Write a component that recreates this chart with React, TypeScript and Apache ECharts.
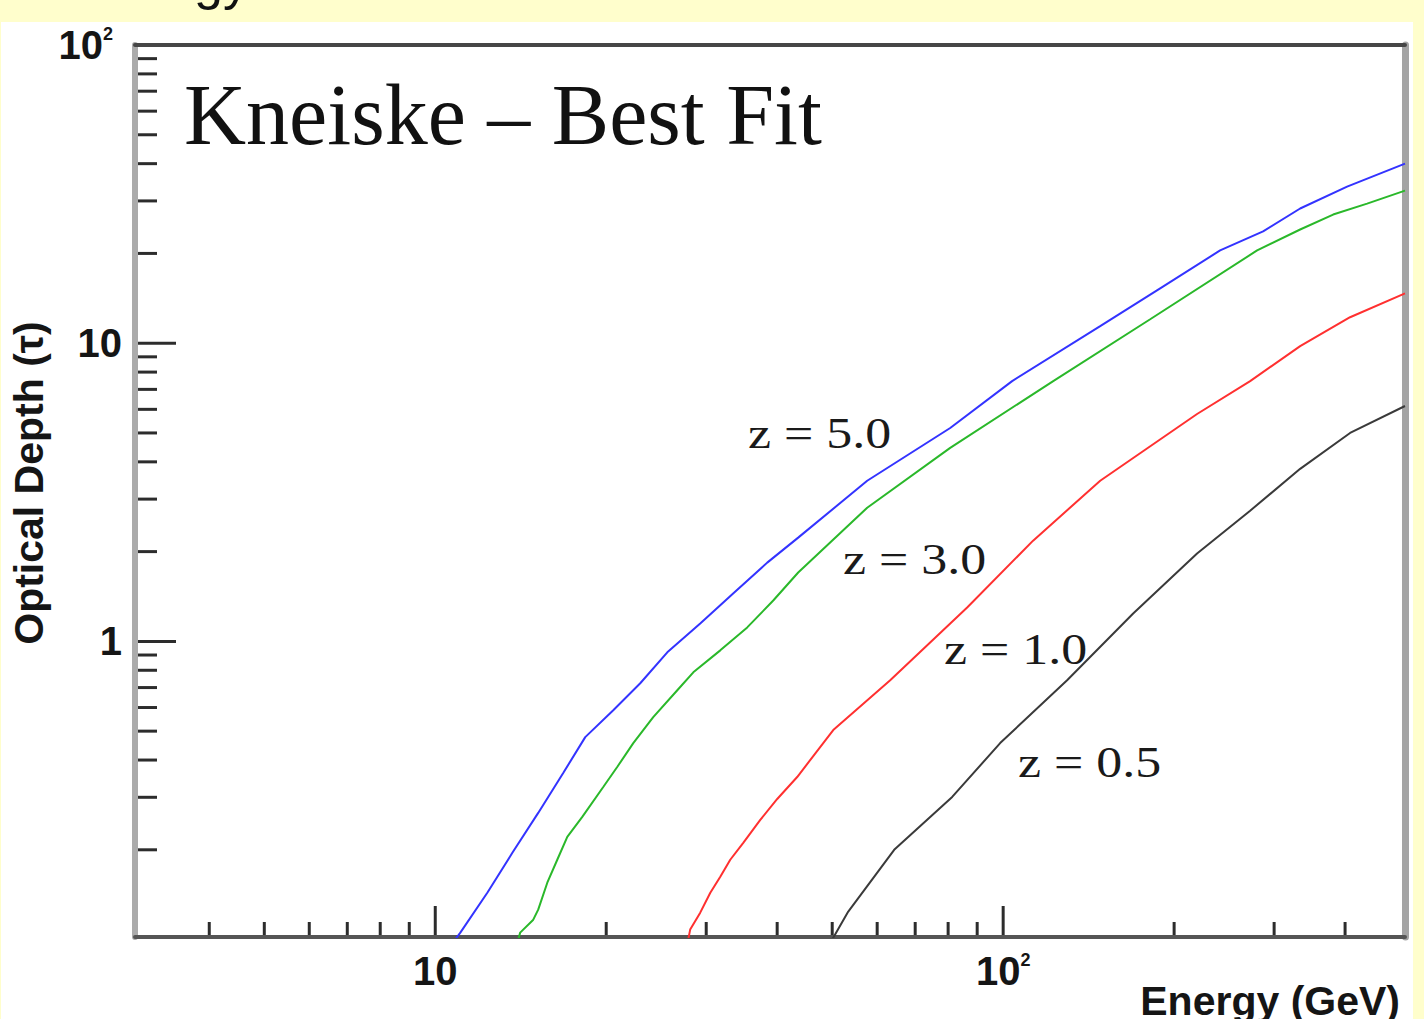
import React, { useEffect, useRef } from "react";
import * as echarts from "echarts";

// Axis ranges (log-log)
const X_MIN = 2.96;
const X_MAX = 510;
const Y_MIN = 0.102;
const Y_MAX = 100;

// Tick positions drawn along the inner side of the frame
const xTickValues = [4, 5, 6, 7, 8, 9, 10, 20, 30, 40, 50, 60, 70, 80, 90, 100, 200, 300, 400];
const xMajorTicks = [10, 100];
const yTickValues = [
  0.2, 0.3, 0.4, 0.5, 0.6, 0.7, 0.8, 0.9, 1,
  2, 3, 4, 5, 6, 7, 8, 9, 10,
  20, 30, 40, 50, 60, 70, 80, 90,
];
const yMajorTicks = [1, 10];

// Optical depth curves: energy (GeV) and tau for each redshift
const z50Energy = [10.84, 11.07, 12.35, 13.67, 15.18, 16.8, 18.37, 20.58, 22.96, 25.62, 29.28, 33.46, 38.42, 43.56, 57.62, 80.67, 103.7, 148.2, 189.0, 241.0, 286.9, 333.4, 403.3, 510];
const z50Tau = [0.1, 0.1055, 0.1436, 0.1954, 0.2659, 0.3619, 0.4775, 0.5877, 0.7237, 0.9189, 1.149, 1.447, 1.837, 2.228, 3.456, 5.196, 7.463, 11.4, 15.28, 20.47, 23.7, 28.29, 33.5, 40.0];

const z30Energy = [14.0, 14.11, 14.88, 15.18, 15.75, 16.4, 17.08, 18.15, 19.76, 20.91, 22.32, 24.2, 26.68, 28.47, 31.76, 35.43, 39.37, 43.56, 57.62, 80.67, 122.5, 181.5, 280.0, 333.4, 381.1, 437.4, 510];
const z30Tau = [0.1, 0.1055, 0.1166, 0.126, 0.1551, 0.1852, 0.2211, 0.2578, 0.3249, 0.379, 0.4559, 0.5568, 0.6858, 0.7874, 0.933, 1.114, 1.371, 1.702, 2.807, 4.456, 7.463, 12.03, 20.47, 24.06, 27.0, 29.39, 32.49];

const z10Energy = [27.89, 28.11, 29.28, 30.5, 31.76, 33.07, 34.86, 37.35, 40.01, 43.38, 50.21, 63.25, 86.42, 112.9, 148.2, 219.5, 272.2, 333.4, 408.2, 510];
const z10Tau = [0.1, 0.108, 0.1231, 0.1436, 0.1624, 0.1852, 0.2111, 0.2519, 0.2961, 0.3508, 0.5041, 0.7408, 1.299, 2.177, 3.456, 5.788, 7.463, 9.772, 12.22, 14.7];

const z05Energy = [50.0, 53.36, 64.28, 81.33, 98.79, 129.6, 169.4, 219.5, 272.2, 333.4, 408.2, 510];
const z05Tau = [0.1, 0.1241, 0.2, 0.3008, 0.4559, 0.7408, 1.24, 1.97, 2.743, 3.79, 5.0, 6.157];

const curveNames = ["z = 5.0", "z = 3.0", "z = 1.0", "z = 0.5"];
const curveColors = ["#3333ff", "#2ab82a", "#ff3030", "#3a3a3a"];

const zip = (xs: number[], ys: number[]) => xs.map((x, i) => [x, ys[i]]);

const sansBold = "'Liberation Sans', Arial, Helvetica, sans-serif";
const serif = "'Liberation Serif', 'Times New Roman', Times, serif";

function powerLabel(v: number, suffix: string) {
  const l = Math.log10(v);
  const n = Math.round(l);
  if (Math.abs(l - n) > 1e-6) return "";
  if (n === 0) return "1";
  if (n === 1) return "10";
  return `{b|10}{s|${n}}${suffix}`;
}

function App() {
  const ref = useRef<HTMLDivElement>(null);

  useEffect(() => {
    if (!ref.current) return;
    const chart = echarts.init(ref.current, undefined, { renderer: "svg" });

    const labelRich = {
      b: { fontSize: 40, fontWeight: "bold", fontFamily: sansBold, color: "#151515", lineHeight: 40 },
      s: { fontSize: 18, fontWeight: "bold", fontFamily: sansBold, color: "#151515", verticalAlign: "top", lineHeight: 18 },
      p: { width: 9 },
    };

    const tickStyle = { stroke: "#2c2c2c", lineWidth: 3 };

    const lineSeries = [
      zip(z50Energy, z50Tau),
      zip(z30Energy, z30Tau),
      zip(z10Energy, z10Tau),
      zip(z05Energy, z05Tau),
    ].map((data, i) => ({
      type: "line",
      name: curveNames[i],
      data,
      showSymbol: false,
      symbol: "none",
      smooth: false,
      clip: true,
      lineStyle: { color: curveColors[i], width: 2 },
      z: 3,
    }));

    chart.setOption({
      animation: false,
      backgroundColor: "#ffffff",
      grid: {
        left: 135,
        right: 19,
        top: 45,
        bottom: 82,
        containLabel: false,
        outerBoundsMode: "none",
      },
      xAxis: [
        {
          type: "log",
          logBase: 10,
          min: X_MIN,
          max: X_MAX,
          position: "bottom",
          splitLine: { show: false },
          axisTick: { show: false },
          minorTick: { show: false },
          axisLine: { show: true, lineStyle: { color: "#555555", width: 4 } },
          axisLabel: {
            margin: 14,
            fontSize: 40,
            fontWeight: "bold",
            fontFamily: sansBold,
            color: "#151515",
            showMinLabel: false,
            showMaxLabel: false,
            formatter: (v: number) => powerLabel(v, ""),
            rich: labelRich,
          },
        },
        {
          type: "log",
          logBase: 10,
          min: X_MIN,
          max: X_MAX,
          position: "top",
          splitLine: { show: false },
          axisTick: { show: false },
          axisLabel: { show: false },
          axisLine: { show: true, lineStyle: { color: "#464646", width: 4 } },
        },
      ],
      yAxis: [
        {
          type: "log",
          logBase: 10,
          min: Y_MIN,
          max: Y_MAX,
          position: "left",
          splitLine: { show: false },
          axisTick: { show: false },
          minorTick: { show: false },
          axisLine: { show: true, lineStyle: { color: "#ababab", width: 6 } },
          axisLabel: {
            margin: 13,
            fontSize: 40,
            fontWeight: "bold",
            fontFamily: sansBold,
            color: "#151515",
            showMinLabel: false,
            formatter: (v: number) => powerLabel(v, "{p|}"),
            rich: labelRich,
          },
        },
        {
          type: "log",
          logBase: 10,
          min: Y_MIN,
          max: Y_MAX,
          position: "right",
          splitLine: { show: false },
          axisTick: { show: false },
          axisLabel: { show: false },
          axisLine: { show: true, lineStyle: { color: "#a4a4a4", width: 7 } },
        },
      ],
      series: [
        ...lineSeries,
        {
          type: "custom",
          name: "xTicks",
          xAxisIndex: 0,
          yAxisIndex: 0,
          encode: { x: 0, y: 1 },
          data: xTickValues.map((v) => [v, Y_MIN, xMajorTicks.includes(v) ? 1 : 0]),
          renderItem: (_params: any, api: any) => {
            const p = api.coord([api.value(0), api.value(1)]);
            const len = api.value(2) === 1 ? 31 : 15;
            return {
              type: "line",
              shape: { x1: p[0], y1: p[1] - 2, x2: p[0], y2: p[1] - len },
              style: tickStyle,
            };
          },
          z: 4,
        },
        {
          type: "custom",
          name: "yTicks",
          xAxisIndex: 0,
          yAxisIndex: 0,
          encode: { x: 0, y: 1 },
          data: yTickValues.map((v) => [X_MIN, v, yMajorTicks.includes(v) ? 1 : 0]),
          renderItem: (_params: any, api: any) => {
            const p = api.coord([api.value(0), api.value(1)]);
            const len = api.value(2) === 1 ? 41 : 22;
            return {
              type: "line",
              shape: { x1: p[0] + 3, y1: p[1], x2: p[0] + len, y2: p[1] },
              style: tickStyle,
            };
          },
          z: 4,
        },
      ],
      graphic: [
        // slide background strips around the figure
        { type: "rect", shape: { x: 0, y: 0, width: 1424, height: 22 }, style: { fill: "#fffecc" }, silent: true },
        { type: "rect", shape: { x: 1413, y: 0, width: 11, height: 1019 }, style: { fill: "#fffecc" }, silent: true },
        { type: "rect", shape: { x: 0, y: 0, width: 1, height: 1019 }, style: { fill: "#fffecc" }, silent: true },
        {
          type: "text",
          x: 249,
          y: -19,
          style: {
            text: "Energy",
            fontSize: 52,
            fontFamily: sansBold,
            fill: "#111111",
            textAlign: "right",
            align: "right",
            textVerticalAlign: "middle",
            verticalAlign: "middle",
          },
        },
        {
          type: "text",
          x: 184,
          y: 115,
          style: {
            text: "Kneiske \u2013 Best Fit",
            fontSize: 86,
            fontFamily: serif,
            fill: "#111111",
            textAlign: "left",
            align: "left",
            textVerticalAlign: "middle",
            verticalAlign: "middle",
          },
        },
        ...[
          { t: curveNames[0], x: 748, y: 433 },
          { t: curveNames[1], x: 843, y: 559 },
          { t: curveNames[2], x: 944, y: 649 },
          { t: curveNames[3], x: 1018, y: 762 },
        ].map((l) => ({
          type: "text",
          x: l.x,
          y: l.y,
          scaleX: 1.18,
          style: {
            text: l.t,
            fontSize: 44,
            fontFamily: serif,
            fill: "#1a1a1a",
            textAlign: "left",
            align: "left",
            textVerticalAlign: "middle",
            verticalAlign: "middle",
          },
        })),
        {
          type: "text",
          x: 29,
          y: 483,
          rotation: Math.PI / 2,
          style: {
            text: "Optical Depth (\u03c4)",
            fontSize: 41,
            fontWeight: "bold",
            fontFamily: sansBold,
            fill: "#151515",
            textAlign: "center",
            align: "center",
            textVerticalAlign: "middle",
            verticalAlign: "middle",
          },
        },
        {
          type: "text",
          x: 1400,
          y: 1001,
          style: {
            text: "Energy (GeV)",
            fontSize: 41,
            fontWeight: "bold",
            fontFamily: sansBold,
            fill: "#151515",
            textAlign: "right",
            align: "right",
            textVerticalAlign: "middle",
            verticalAlign: "middle",
          },
        },
      ],
    });

    return () => chart.dispose();
  }, []);

  return (
    <div
      ref={ref}
      style={{ position: "fixed", left: 0, top: 0, width: 1424, height: 1019 }}
    />
  );
}

export default App;
